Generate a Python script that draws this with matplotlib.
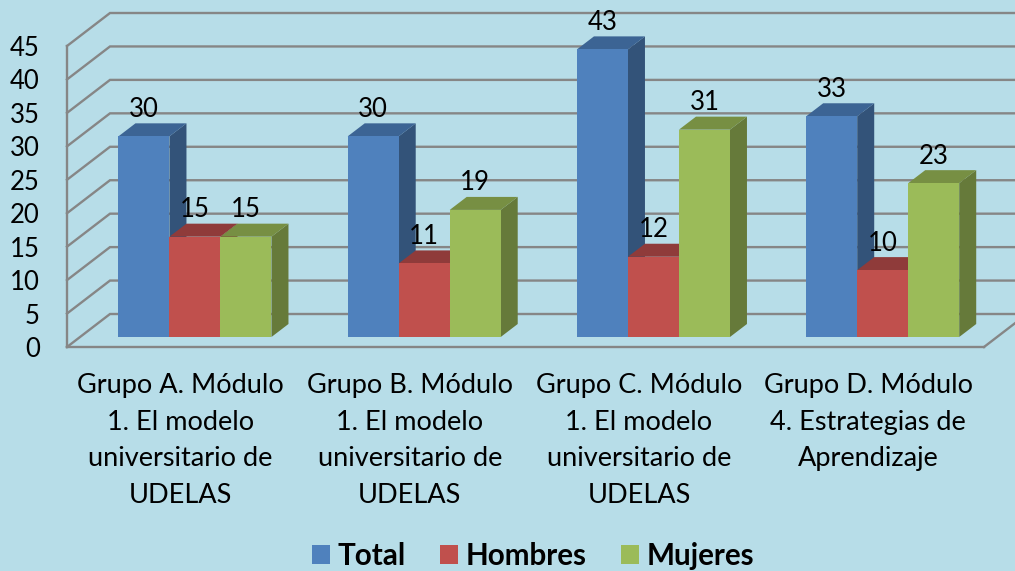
import matplotlib
matplotlib.use("Agg")
import matplotlib.pyplot as plt
from matplotlib.patches import Polygon, Patch

categories = [
    "Grupo A. Módulo\n1. El modelo\nuniversitario de\nUDELAS",
    "Grupo B. Módulo\n1. El modelo\nuniversitario de\nUDELAS",
    "Grupo C. Módulo\n1. El modelo\nuniversitario de\nUDELAS",
    "Grupo D. Módulo\n4. Estrategias de\nAprendizaje",
]
total = [30, 30, 43, 33]
hombres = [15, 11, 12, 10]
mujeres = [15, 19, 31, 23]
series_names = ["Total", "Hombres", "Mujeres"]
y_ticks = [0, 5, 10, 15, 20, 25, 30, 35, 40, 45]

FRONT = ["#4f81bd", "#c0504d", "#9bbb59"]
TOP = ["#3c6494", "#8f3b3a", "#778f43"]
SIDE = ["#335379", "#7c3331", "#667a3a"]
BG = "#b7dde8"
GRID = "#868686"
FONT = "Lato"

W, H = 1015, 571
fig = plt.figure(figsize=(W / 100, H / 100), dpi=100, facecolor=BG)
ax = fig.add_axes([67 / W, 1 - 347 / H, 917 / W, 301 / H], facecolor="none")
ax.set_xlim(0, 4)
ax.set_ylim(0, 45)

# oblique projection, in data units
WALL_DX, WALL_DY = 43 / 229.25, 33 / 6.69
BAR_DX, BAR_DY = 17 / 229.25, 13 / 6.69
BASE_DX, BASE_DY = 0.2245, 10 / 6.69
BAR_W = 51 / 229.25

for v in y_ticks:
    ax.plot([0, WALL_DX, 4 + WALL_DX], [v, v + WALL_DY, v + WALL_DY],
            color=GRID, lw=1.7, clip_on=False, zorder=1, solid_joinstyle="miter")
ax.plot([4, 4 + WALL_DX], [0, WALL_DY], color=GRID, lw=1.7, clip_on=False, zorder=1)

for s in ("top", "right"):
    ax.spines[s].set_visible(False)
for s in ("left", "bottom"):
    ax.spines[s].set_color(GRID)
    ax.spines[s].set_linewidth(1.7)
    ax.spines[s].set_zorder(1)

for i, values in enumerate([total, hombres, mujeres]):
    for g, v in enumerate(values):
        x0 = g + BASE_DX + i * BAR_W
        x1 = x0 + BAR_W
        b = BASE_DY
        t = b + v
        ax.add_patch(Polygon([(x1, b), (x1 + BAR_DX, b + BAR_DY), (x1 + BAR_DX, t + BAR_DY), (x1, t)],
                             closed=True, fc=SIDE[i], ec="none", zorder=3 + i, clip_on=False))
        ax.add_patch(Polygon([(x0, t), (x0 + BAR_DX, t + BAR_DY), (x1 + BAR_DX, t + BAR_DY), (x1, t)],
                             closed=True, fc=TOP[i], ec="none", zorder=3 + i, clip_on=False))
        ax.add_patch(Polygon([(x0, b), (x1, b), (x1, t), (x0, t)],
                             closed=True, fc=FRONT[i], ec="none", zorder=3 + i, clip_on=False))
        ax.annotate(str(v), xy=((x0 + x1) / 2, t), xytext=(0, 27), textcoords="offset pixels",
                    ha="center", va="center", fontsize=18.5, family=FONT, color="black",
                    zorder=10, annotation_clip=False)

ax.set_yticks(y_ticks)
ax.set_yticklabels([str(v) for v in y_ticks], fontsize=18.5, family=FONT, color="black")
ax.set_xticks([g + 0.495 for g in range(4)])
ax.set_xticklabels(categories, fontsize=19.5, family=FONT, color="black", linespacing=1.57, va="top")
ax.tick_params(axis="y", length=0, pad=19.5)
ax.tick_params(axis="x", length=0, pad=19)

handles = [Patch(fc=c, ec="none", label=n) for c, n in zip(FRONT, series_names)]
fig.legend(handles=handles, loc="lower center", bbox_to_anchor=(533 / W, -0.009), ncol=3, frameon=False,
           prop={"family": FONT, "weight": "bold", "size": 21.3},
           handlelength=0.61, handleheight=0.61, handletextpad=0.24, columnspacing=1.18,
           borderpad=0.2, borderaxespad=0)

fig.savefig("out.png", dpi=100, facecolor=BG)
